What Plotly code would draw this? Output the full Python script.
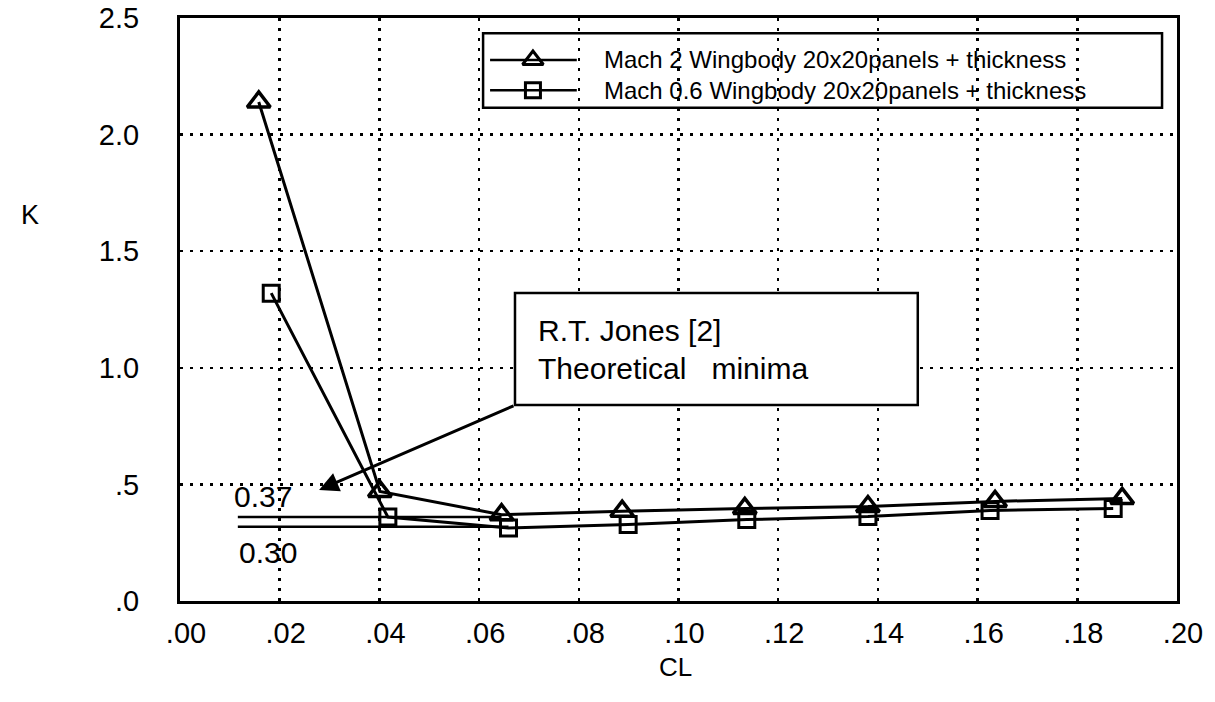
import plotly.graph_objects as go

# ---- data ----
cl_mach2 = [0.0158, 0.0401, 0.0645, 0.0887, 0.1133, 0.1380, 0.1635, 0.1890]
k_mach2 = [2.14, 0.47, 0.37, 0.385, 0.397, 0.405, 0.427, 0.44]
cl_mach06 = [0.0183, 0.0417, 0.0659, 0.0899, 0.1137, 0.1380, 0.1625, 0.1872]
k_mach06 = [1.32, 0.36, 0.313, 0.328, 0.349, 0.362, 0.388, 0.397]

minima_labels = ["0.37", "0.30"]
minima_k = [0.36, 0.318]
minima_cl_start = [0.0116, 0.0116]
minima_cl_end = [0.0645, 0.0659]

series_names = [
    "Mach 2 Wingbody 20x20panels + thickness",
    "Mach 0.6 Wingbody 20x20panels + thickness",
]

x_tickvals = [0.00, 0.02, 0.04, 0.06, 0.08, 0.10, 0.12, 0.14, 0.16, 0.18, 0.20]
x_ticktext = [".00", ".02", ".04", ".06", ".08", ".10", ".12", ".14", ".16", ".18", ".20"]
y_tickvals = [0.0, 0.5, 1.0, 1.5, 2.0, 2.5]
y_ticktext = [".0", ".5", "1.0", "1.5", "2.0", "2.5"]

FONT = "Liberation Sans, Arial, Helvetica, sans-serif"
BLACK = "#000000"

fig = go.Figure()

# theoretical minima lines
for i in range(len(minima_k)):
    fig.add_trace(go.Scatter(
        x=[minima_cl_start[i], minima_cl_end[i]], y=[minima_k[i], minima_k[i]],
        mode="lines", line=dict(color=BLACK, width=2.5), showlegend=False, hoverinfo="skip"))

fig.add_trace(go.Scatter(
    x=cl_mach2, y=k_mach2, mode="lines+markers", name=series_names[0],
    line=dict(color=BLACK, width=3),
    marker=dict(symbol="triangle-up-open", size=20, color=BLACK, line=dict(width=3.5, color=BLACK)),
    showlegend=False))
fig.add_trace(go.Scatter(
    x=cl_mach06, y=k_mach06, mode="lines+markers", name=series_names[1],
    line=dict(color=BLACK, width=3),
    marker=dict(symbol="square-open", size=16, color=BLACK, line=dict(width=3, color=BLACK)),
    showlegend=False))

# ---- manual legend on a hidden 0..1 overlay axis ----
leg_rows = [0.928, 0.876]
leg_symbols = ["triangle-up-open", "square-open"]
leg_sizes = [18, 15]
leg_line_x = [0.311, 0.398]
leg_marker_x = 0.354
leg_text_x = 0.423
for i in range(2):
    fig.add_trace(go.Scatter(
        x=leg_line_x, y=[leg_rows[i], leg_rows[i]], xaxis="x2", yaxis="y2",
        mode="lines", line=dict(color=BLACK, width=2.5), showlegend=False, hoverinfo="skip"))
    fig.add_trace(go.Scatter(
        x=[leg_marker_x], y=[leg_rows[i]], xaxis="x2", yaxis="y2",
        mode="markers", marker=dict(symbol=leg_symbols[i], size=leg_sizes[i], color=BLACK,
                                    line=dict(width=3, color=BLACK)),
        showlegend=False, hoverinfo="skip"))

annotations = []
for i in range(2):
    annotations.append(dict(
        x=leg_text_x, y=leg_rows[i], xref="paper", yref="paper", text=series_names[i],
        showarrow=False, xanchor="left", yanchor="middle",
        font=dict(family=FONT, size=24, color=BLACK)))

shapes = [
    # legend box
    dict(type="rect", xref="paper", yref="paper", x0=0.304, x1=0.985, y0=0.846, y1=0.974,
         line=dict(color=BLACK, width=2.5), fillcolor="white", layer="between"),
    # annotation box
    dict(type="rect", xref="x", yref="y", x0=0.0672, x1=0.148, y0=0.84, y1=1.321,
         line=dict(color=BLACK, width=2.5), fillcolor="white", layer="between"),
]

# annotation text in box
annotations.append(dict(
    x=0.0714, y=1.158, xref="x", yref="y", text="R.T. Jones [2]", showarrow=False,
    xanchor="left", yanchor="middle", font=dict(family=FONT, size=30, color=BLACK)))
annotations.append(dict(
    x=0.0714, y=0.999, xref="x", yref="y", text="Theoretical\u00a0\u00a0 minima", showarrow=False,
    xanchor="left", yanchor="middle", font=dict(family=FONT, size=30, color=BLACK)))

# arrow
annotations.append(dict(
    x=0.0279, y=0.476, xref="x", yref="y", ax=0.0672, ay=0.84, axref="x", ayref="y",
    text="", showarrow=True, arrowhead=2, arrowsize=1.3, arrowwidth=3, arrowcolor=BLACK))

# minima labels
annotations.append(dict(x=0.0167, y=0.45, xref="x", yref="y", text=minima_labels[0],
                        showarrow=False, xanchor="center", yanchor="middle",
                        font=dict(family=FONT, size=30, color=BLACK)))
annotations.append(dict(x=0.0177, y=0.21, xref="x", yref="y", text=minima_labels[1],
                        showarrow=False, xanchor="center", yanchor="middle",
                        font=dict(family=FONT, size=30, color=BLACK)))

# axis titles
annotations.append(dict(x=-0.150, y=0.662, xref="paper", yref="paper", text="K",
                        showarrow=False, xanchor="center", yanchor="middle",
                        font=dict(family=FONT, size=27, color=BLACK)))
annotations.append(dict(x=0.4965, y=-0.113, xref="paper", yref="paper", text="CL",
                        showarrow=False, xanchor="center", yanchor="middle",
                        font=dict(family=FONT, size=26, color=BLACK)))

fig.update_layout(
    width=1215, height=702,
    margin=dict(l=180, r=38, t=18, b=101, autoexpand=False),
    paper_bgcolor="white", plot_bgcolor="white",
    showlegend=False,
    shapes=shapes, annotations=annotations,
    xaxis=dict(range=[0, 0.2], tickvals=x_tickvals, ticktext=x_ticktext,
               showgrid=True, gridcolor=BLACK, gridwidth=2.5, griddash="2.5px,7.5px",
               showline=True, linecolor=BLACK, linewidth=3, mirror=True, automargin=False,
               ticks="", ticklabelstandoff=4, ticklabelshift=6, zeroline=False,
               ticklabeloverflow="allow",
               tickfont=dict(family=FONT, size=29, color=BLACK)),
    yaxis=dict(range=[0, 2.5], tickvals=y_tickvals, ticktext=y_ticktext,
               showgrid=True, gridcolor=BLACK, gridwidth=2.5, griddash="2.5px,7.5px",
               showline=True, linecolor=BLACK, linewidth=3, mirror=True, automargin=False,
               ticks="", ticklabelstandoff=32, zeroline=False,
               ticklabeloverflow="allow",
               tickfont=dict(family=FONT, size=29, color=BLACK)),
    xaxis2=dict(range=[0, 1], overlaying="x", visible=False),
    yaxis2=dict(range=[0, 1], overlaying="y", visible=False),
)

# remove the page's default body margin so the figure fills the window exactly
fig.write_html("out.html",
               config={"displayModeBar": False, "staticPlot": True},
               post_script="document.body.style.margin='0px';document.body.style.overflow='hidden';")
